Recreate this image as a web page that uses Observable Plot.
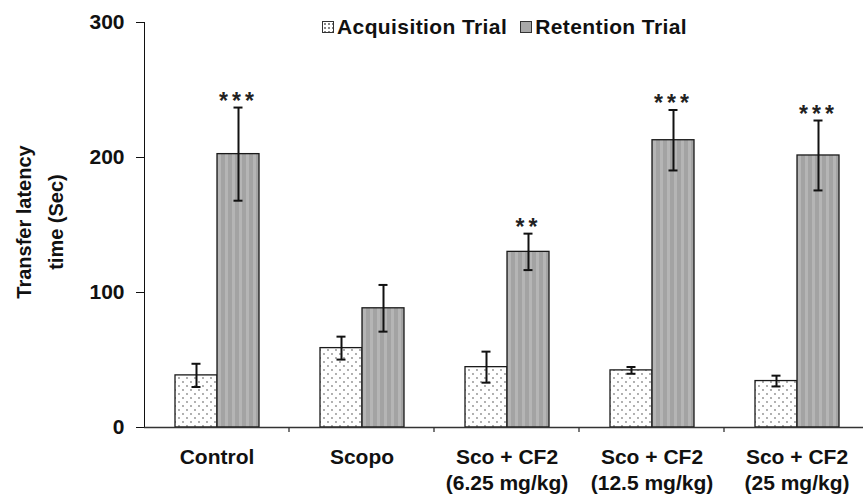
<!DOCTYPE html>
<html>
<head>
<meta charset="utf-8">
<script src="https://cdn.jsdelivr.net/npm/d3@7"></script>
<script src="https://cdn.jsdelivr.net/npm/@observablehq/plot@0.6"></script>
<style>
  body { margin: 0; background: #fff; font-family: "Liberation Sans", Arial, sans-serif; }
  #wrap { position: relative; width: 863px; height: 497px; overflow: hidden; }
  .legend { position: absolute; top: 15px; left: 322px; display: flex; align-items: center;
            font-size: 21px; letter-spacing: 0.4px; font-weight: bold; color: #111; white-space: nowrap; }
  .legend .item { display: flex; align-items: center; margin-right: 13px; }
  .sw { width: 10px; height: 10px; border: 1px solid #333; margin-right: 3px; }
  .sw.acq { background: #fff radial-gradient(#888 0.8px, transparent 1.2px) 0 0 / 4px 4px; }
  .sw.ret { background: #a8a8a8; }
  .ylab { position: absolute; left: 40px; top: 222px; transform: translate(-50%, -50%) rotate(-90deg);
          text-align: center; font-size: 20px; font-weight: bold; color: #111; line-height: 32px; white-space: nowrap; }
</style>
</head>
<body>
<div id="wrap">
  <div class="ylab">Transfer latency<br>time (Sec)</div>
  <div class="legend">
    <div class="item"><div class="sw acq"></div><span>Acquisition Trial</span></div>
    <div class="item"><div class="sw ret"></div><span>Retention Trial</span></div>
  </div>
</div>
<script>
// Treatment groups, trials and measured transfer latency (mean ± SEM, seconds)
const groups = [
  "Control",
  "Scopo",
  "Sco + CF2\n(6.25 mg/kg)",
  "Sco + CF2\n(12.5 mg/kg)",
  "Sco + CF2\n(25 mg/kg)"
];
const trials = ["Acquisition Trial", "Retention Trial"];
const acquisitionMean = [38.6, 58.8, 44.7, 42.3, 34.4];
const acquisitionSem = [8.6, 8.5, 11.5, 2.5, 4.0];
const retentionMean = [202.5, 88.3, 130.1, 212.8, 201.5];
const retentionSem = [34.5, 17.3, 13.5, 22.4, 25.9];
const retentionSignificance = ["***", "", "**", "***", "***"];
const yTicks = [0, 100, 200, 300];

const rows = groups.flatMap((g, i) => [
  {group: g, trial: trials[0], mean: acquisitionMean[i], sem: acquisitionSem[i], sig: ""},
  {group: g, trial: trials[1], mean: retentionMean[i], sem: retentionSem[i], sig: retentionSignificance[i]}
]);
const acq = rows.filter(d => d.trial === trials[0]);
const ret = rows.filter(d => d.trial === trials[1]);

const chart = Plot.plot({
  width: 863,
  height: 497,
  marginTop: 22,
  marginBottom: 70,
  marginLeft: 143,
  marginRight: 0,
  style: {fontFamily: "Liberation Sans, Arial, sans-serif", fontSize: "21px", fontWeight: "bold", color: "#111", background: "transparent"},
  fx: {domain: groups, range: [143, 870.5], padding: 0, label: null, axis: null},
  x: {domain: trials, paddingInner: 0, paddingOuter: 0.71, axis: null},
  y: {domain: [0, 300], ticks: yTicks, tickSize: 8, tickPadding: 12, tickFormat: d => d, line: true, label: null},
  marks: [
    Plot.barY(acq, {fx: "group", x: "trial", y: "mean", fill: "url(#acq-dots)", stroke: "#1a1a1a", strokeWidth: 1.3}),
    Plot.barY(ret, {fx: "group", x: "trial", y: "mean", fill: "url(#ret-stripes)", stroke: "#1a1a1a", strokeWidth: 1.3}),
    Plot.ruleX(rows, {fx: "group", x: "trial", y1: d => d.mean - d.sem, y2: d => d.mean + d.sem, stroke: "#111", strokeWidth: 2}),
    Plot.tickY(rows, {fx: "group", x: "trial", y: d => d.mean + d.sem, insetLeft: 16.5, insetRight: 16.5, stroke: "#111", strokeWidth: 2}),
    Plot.tickY(rows, {fx: "group", x: "trial", y: d => d.mean - d.sem, insetLeft: 16.5, insetRight: 16.5, stroke: "#111", strokeWidth: 2}),
    Plot.text(ret, {fx: "group", x: "trial", y: d => d.mean + d.sem, text: "sig", dy: -6, fontSize: 23, fill: "#222"}),
    Plot.ruleY([0], {stroke: "#333", strokeWidth: 1.5}),
    Plot.axisFx({anchor: "bottom", tickSize: 0, tickPadding: 19, label: null, lineHeight: 1.2, fontSize: 21})
  ]
});

const svg = d3.select(chart);
// Fill patterns for the two trials
const defs = svg.insert("defs", ":first-child");
const dots = defs.append("pattern").attr("id", "acq-dots").attr("patternUnits", "userSpaceOnUse")
  .attr("width", 8).attr("height", 8);
dots.append("rect").attr("width", 8).attr("height", 8).attr("fill", "#fff");
dots.append("circle").attr("cx", 2).attr("cy", 2).attr("r", 0.9).attr("fill", "#8c8c8c");
dots.append("circle").attr("cx", 6).attr("cy", 6).attr("r", 0.9).attr("fill", "#8c8c8c");
const stripes = defs.append("pattern").attr("id", "ret-stripes").attr("patternUnits", "userSpaceOnUse")
  .attr("width", 7).attr("height", 10);
stripes.append("rect").attr("width", 7).attr("height", 10).attr("fill", "#a3a3a3");
stripes.append("rect").attr("width", 3).attr("height", 10).attr("fill", "#b5b5b5");

// Widen the significance asterisks
svg.selectAll('g[aria-label="text"] text').style("letter-spacing", "4px");

// Small ticks on the baseline between treatment groups
const fx = chart.scale("fx");
const y = chart.scale("y");
const y0 = y.apply(0);
svg.append("g").attr("stroke", "#333").attr("stroke-width", 1.3)
  .selectAll("line").data(groups.slice(1)).join("line")
  .attr("x1", g => fx.apply(g)).attr("x2", g => fx.apply(g))
  .attr("y1", y0).attr("y2", y0 + 5);

document.getElementById("wrap").prepend(chart);
</script>
</body>
</html>
